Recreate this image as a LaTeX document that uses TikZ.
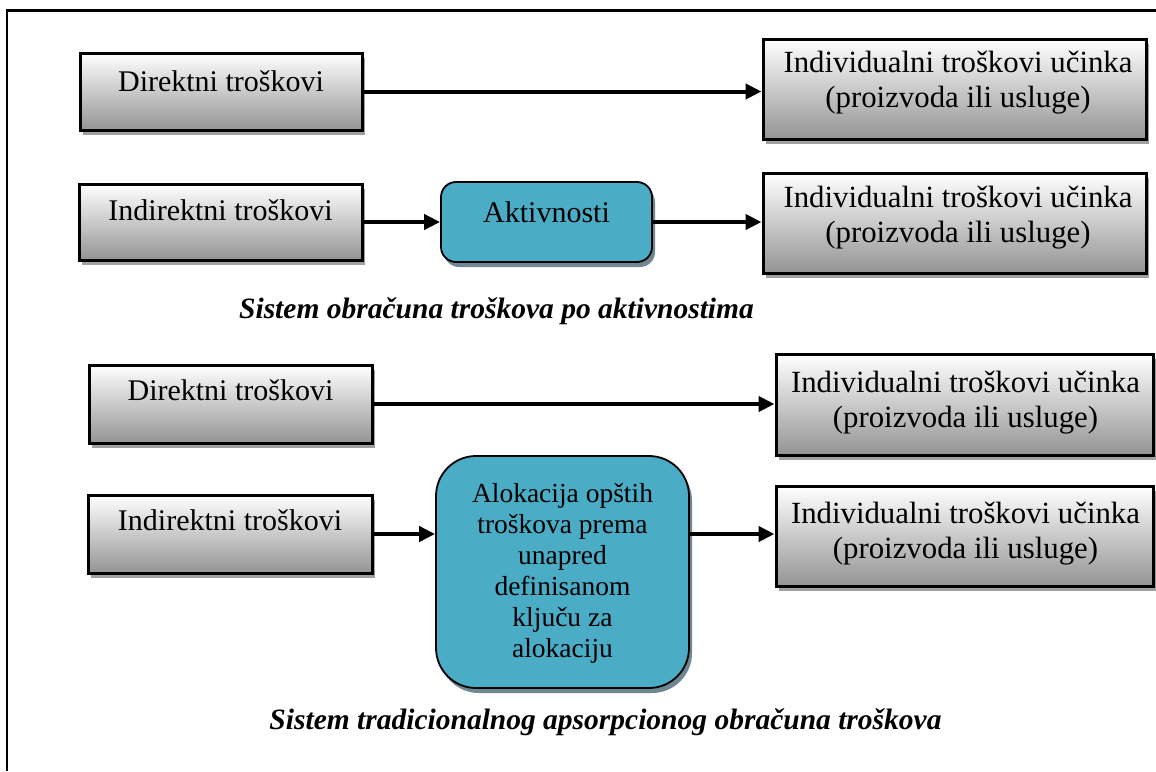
\documentclass[tikz,border=0pt]{standalone}
\usepackage{fontspec}
\setmainfont{Liberation Serif}
\usetikzlibrary{arrows.meta,shadows}
\definecolor{tealfill}{RGB}{75,172,198}
\definecolor{greyshadow}{RGB}{160,160,160}
\definecolor{tealshadow}{RGB}{110,135,145}
\begin{document}
\begin{tikzpicture}[x=1pt,y=-1pt,
  costbox/.style={draw=black, line width=3pt, top color=white, bottom color=black!42,
    inner sep=0pt,
    drop shadow={shadow xshift=3pt, shadow yshift=-5pt, fill=greyshadow, opacity=1}},
  actbox/.style={draw=black, line width=1.8pt, fill=tealfill, inner sep=0pt,
    drop shadow={shadow xshift=3pt, shadow yshift=-5pt, fill=tealshadow, opacity=1}},
  txt/.style={font=\fontsize{30}{35}\selectfont, align=center, inner sep=0pt, anchor=base},
  outtxt/.style={txt, font=\fontsize{30.8}{35}\selectfont},
  caption/.style={font=\fontsize{29.5}{34}\selectfont\bfseries\itshape, inner sep=0pt, anchor=base},
  flow/.style={line width=4pt, -{Triangle[length=16pt,width=15pt]}}
]
\useasboundingbox (0,0) rectangle (1156,771);
\fill[white] (0,0) rectangle (1156,771);

% frame
\draw[line width=2.7pt] (1156,10.5) -- (7,10.5) -- (7,771);

% activity-based costing
\node[costbox, minimum width=282pt, minimum height=77pt] (b1) at (221,91.5) {};
\node[costbox, minimum width=383pt, minimum height=100pt] (r1) at (954.5,89) {};
\node[costbox, minimum width=283pt, minimum height=76pt] (b2) at (220.5,222) {};
\node[actbox, rounded corners=15pt, minimum width=211pt, minimum height=80pt] (a2) at (546.5,222) {};
\node[costbox, minimum width=383pt, minimum height=100pt] (r2) at (954.5,223) {};

% last-line baselines for the multi-line labels
\node[txt] (tb1) at (221,91) {Direktni troškovi};
\node[outtxt] (tr1) at (958,107) {Individualni troškovi učinka\\(proizvoda ili usluge)};
\node[txt] (tb2) at (220.5,220) {Indirektni troškovi};
\node[txt] (ta2) at (546.5,222) {Aktivnosti};
\node[outtxt] (tr2) at (958,242) {Individualni troškovi učinka\\(proizvoda ili usluge)};

\draw[flow] (b1.east) -- (b1.east -| r1.west);
\draw[flow] (b2.east) -- (a2.west);
\draw[flow] (a2.east) -- (a2.east -| r2.west);

\node[caption] (c1) at (496.5,318) {Sistem obračuna troškova po aktivnostima};

% traditional absorption costing
\node[costbox, minimum width=283pt, minimum height=78pt] (b3) at (230.5,404) {};
\node[costbox, minimum width=377pt, minimum height=101pt] (r3) at (964.5,404.5) {};
\node[costbox, minimum width=284pt, minimum height=78pt] (b4) at (230,534) {};
\node[actbox, rounded corners=40pt, minimum width=253pt, minimum height=232pt] (a4) at (562.5,572) {};
\node[costbox, minimum width=377pt, minimum height=100pt] (r4) at (964.5,536) {};

\node[txt] (tb3) at (230.5,400) {Direktni troškovi};
\node[outtxt] (tr3) at (965.5,427) {Individualni troškovi učinka\\(proizvoda ili usluge)};
\node[txt] (tb4) at (230,530) {Indirektni troškovi};
\node[txt, font=\fontsize{27.5}{31}\selectfont] (ta4) at (562.5,657)
  {Alokacija opštih\\troškova prema\\unapred\\definisanom\\ključu za\\alokaciju};
\node[outtxt] (tr4) at (965.5,558) {Individualni troškovi učinka\\(proizvoda ili usluge)};

\draw[flow] (b3.east) -- (b3.east -| r3.west);
\draw[flow] (b4.east) -- (b4.east -| a4.west);
\draw[flow] (a4.east |- b4.east) -- (r4.west |- b4.east);

\node[caption] (c2) at (605.5,729) {Sistem tradicionalnog apsorpcionog obračuna troškova};
\end{tikzpicture}
\end{document}
